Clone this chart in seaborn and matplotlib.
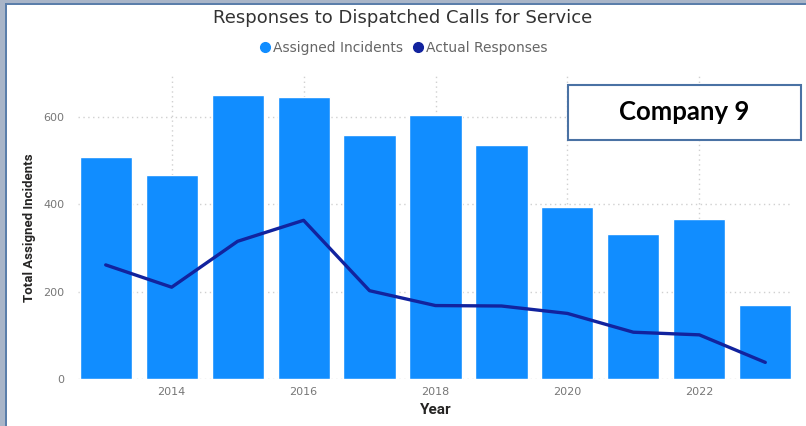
import matplotlib
matplotlib.use("Agg")
import matplotlib.pyplot as plt
from matplotlib.lines import Line2D
from matplotlib.patches import Rectangle
import seaborn as sns

# Yearly figures
years = [2013, 2014, 2015, 2016, 2017, 2018, 2019, 2020, 2021, 2022, 2023]
assigned_incidents = [508, 467, 650, 646, 559, 605, 536, 393, 331, 366, 169]
actual_responses = [261, 210, 315, 363, 202, 168, 167, 150, 107, 101, 38]
x_ticks = [2014, 2016, 2018, 2020, 2022]
y_ticks = [0, 200, 400, 600]

BAR_COLOR = "#118DFF"
LINE_COLOR = "#12239E"
GRID_COLOR = "#D0D0D0"
TICK_COLOR = "#777777"

sns.set_style("white")
plt.rcParams["font.family"] = ["DejaVu Sans"]

W, H = 806, 426
fig = plt.figure(figsize=(W / 100, H / 100), dpi=100)
fig.patch.set_facecolor("white")

# Frame strips along the top and left edges
fig.patches.append(Rectangle((0, 1 - 2.7 / H), 1, 2.7 / H, transform=fig.transFigure,
                             facecolor="#A9B5C8", edgecolor="none", zorder=0))
fig.patches.append(Rectangle((0, 1 - 4.8 / H), 1, 2.1 / H, transform=fig.transFigure,
                             facecolor="#5B7EAA", edgecolor="none", zorder=0))
fig.patches.append(Rectangle((0, 0), 4.5 / W, 1, transform=fig.transFigure,
                             facecolor="#A9B5C8", edgecolor="none", zorder=0))
fig.patches.append(Rectangle((4.5 / W, 0), 2.2 / W, 1 - 2.7 / H, transform=fig.transFigure,
                             facecolor="#5B7EAA", edgecolor="none", zorder=0))

left, right, bottom, top = 78 / W, 793 / W, 1 - 379 / H, 1 - 73 / H
ax = fig.add_axes([left, bottom, right - left, top - bottom])

sns.barplot(x=years, y=assigned_incidents, native_scale=True, width=0.79,
            color=BAR_COLOR, saturation=1, ax=ax, zorder=2)
sns.lineplot(x=years, y=actual_responses, color=LINE_COLOR, linewidth=2.4,
             ax=ax, zorder=3)

ax.set_xlim(2012.58, 2023.42)
ax.set_ylim(0, 700)
ax.set_xticks(x_ticks)
ax.set_xticklabels([str(t) for t in x_ticks])
ax.set_yticks(y_ticks)
ax.set_yticklabels([str(t) for t in y_ticks])
ax.tick_params(axis="both", length=0, labelsize=8, labelcolor=TICK_COLOR)
ax.tick_params(axis="x", pad=6)
ax.tick_params(axis="y", pad=10)
ax.set_xlabel("")
ax.set_ylabel("")
for s in ax.spines.values():
    s.set_visible(False)

# Dotted gridlines behind the bars
ax.set_axisbelow(True)
ax.grid(True, axis="both", color=GRID_COLOR, linestyle=(0, (1, 2.5)), linewidth=1.0, zorder=0)

# Title and legend
fig.text(0.5, 1 - 18 / H, "Responses to Dispatched Calls for Service",
         ha="center", va="center", fontsize=13, color="#333333")
handles = [
    Line2D([], [], linestyle="none", marker="o", markersize=7, color=BAR_COLOR,
           label="Assigned Incidents"),
    Line2D([], [], linestyle="none", marker="o", markersize=7, color=LINE_COLOR,
           label="Actual Responses"),
]
fig.legend(handles=handles, loc="center", bbox_to_anchor=(0.5, 1 - 48 / H), ncol=2,
           frameon=False, fontsize=10, labelcolor="#666666", handletextpad=0.05,
           columnspacing=0.6, handlelength=1.0, borderpad=0)

# Axis titles
fig.text(30 / W, 1 - 228 / H, "Total Assigned Incidents", rotation=90, ha="center",
         va="center", fontsize=9.5, fontweight="bold", color="#252423",
         family=["Roboto", "DejaVu Sans"])
fig.text(436 / W, 1 - 410 / H, "Year", ha="center", va="center", fontsize=11,
         fontweight="bold", color="#252423", family=["Roboto", "DejaVu Sans"])

# Label box
fig.patches.append(Rectangle((568 / W, 1 - 140 / H), 233 / W, 55 / H,
                             transform=fig.transFigure, facecolor="white",
                             edgecolor="#4A72A4", linewidth=1.5, zorder=5))
fig.text(684 / W, 1 - 112 / H, "Company 9", ha="center", va="center", fontsize=18.5,
         fontweight="bold", color="black", family=["Lato", "DejaVu Sans"], zorder=6)

fig.savefig("out.png", dpi=100, facecolor="white")
